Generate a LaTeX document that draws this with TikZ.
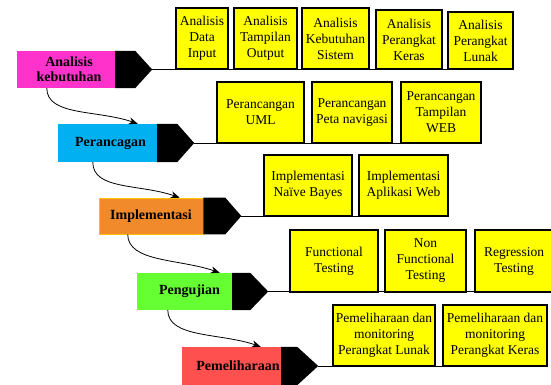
\documentclass[tikz,border=0pt]{standalone}
\usepackage{fontspec}
\setmainfont{Liberation Serif}
\usetikzlibrary{arrows.meta,calc}
\definecolor{cmag}{HTML}{FF33CC}
\definecolor{ccyan}{HTML}{00B0F0}
\definecolor{corange}{HTML}{F08A2A}
\definecolor{corangeb}{HTML}{FFC000}
\definecolor{cgreen}{HTML}{66FF33}
\definecolor{cred}{HTML}{FF5050}
\definecolor{cyel}{HTML}{FFFF00}
\begin{document}
\begin{tikzpicture}[x=1pt,y=-1pt,
  stagebox/.style={draw=none, inner sep=0pt, align=center,
    font=\fontsize{14}{15}\selectfont\bfseries},
  task/.style={draw=black, line width=1.1pt, fill=cyel, inner sep=0pt, align=center,
    font=\fontsize{13.5}{16}\selectfont},
  tipshape/.style={fill=black},
  baseline/.style={draw=black, line width=0.8pt},
  flow/.style={draw=black, line width=0.8pt, -{Stealth[length=9pt,width=7pt]}}
]
\useasboundingbox (0,0) rectangle (551,385);

% stages
\node[stagebox, fill=cmag, minimum width=98pt, minimum height=37pt] (s1) at (66,69.5) {\hspace*{6pt}Analisis\\\hspace*{6pt}kebutuhan};
\node[stagebox, fill=ccyan, minimum width=99pt, minimum height=38pt] (s2) at (107.5,143) {\hspace*{6pt}Perancagan};
\node[stagebox, fill=corange, draw=corangeb, line width=0.6pt, minimum width=104pt, minimum height=36pt] (s3) at (151,216) {Implementasi};
\node[stagebox, fill=cgreen, minimum width=95pt, minimum height=37pt] (s4) at (184.5,291.5) {\hspace*{10pt}Pengujian};
\node[stagebox, fill=cred, minimum width=99pt, minimum height=38pt] (s5) at (231.5,366) {\hspace*{13pt}Pemeliharaan};

% tips
\coordinate (t1) at ($(s1.east)+(37,0)$);
\coordinate (t2) at ($(s2.east)+(37,0)$);
\coordinate (t3) at ($(s3.east)+(38,0)$);
\coordinate (t4) at ($(s4.east)+(36,0)$);
\coordinate (t5) at ($(s5.east)+(37,0)$);
\fill[tipshape] (s1.north east) -- ++(20,0) -- (t1) -- ($(s1.south east)+(20,0)$) -- (s1.south east) -- cycle;
\fill[tipshape] (s2.north east) -- ++(20,0) -- (t2) -- ($(s2.south east)+(20,0)$) -- (s2.south east) -- cycle;
\fill[tipshape] (s3.north east) -- ++(22,0) -- (t3) -- ($(s3.south east)+(22,0)$) -- (s3.south east) -- cycle;
\fill[tipshape] (s4.north east) -- ++(18,0) -- (t4) -- ($(s4.south east)+(18,0)$) -- (s4.south east) -- cycle;
\fill[tipshape] (s5.north east) -- ++(16,0) -- (t5) -- ($(s5.south east)+(16,0)$) -- (s5.south east) -- cycle;

% row 1
\node[task, minimum width=52pt, minimum height=61pt] (b11) at (202,38.5) {Analisis\\Data\\Input};
\node[task, minimum width=63pt, minimum height=61pt] (b12) at (265.5,38.5) {Analisis\\Tampilan\\Output};
\node[task, minimum width=67pt, minimum height=61pt] (b13) at (335.5,38.5) {Analisis\\Kebutuhan\\Sistem};
\node[task, minimum width=66pt, minimum height=59pt] (b14) at (409,39.5) {Analisis\\Perangkat\\Keras};
\node[task, minimum width=65pt, minimum height=57pt] (b15) at (480.5,40.5) {Analisis\\Perangkat\\Lunak};
% row 2
\node[task, minimum width=87pt, minimum height=61pt] (b21) at (260.5,112.5) {Perancangan\\UML};
\node[task, minimum width=80pt, minimum height=61pt] (b22) at (352,112.5) {Perancangan\\Peta navigasi};
\node[task, minimum width=80pt, minimum height=61pt] (b23) at (441,112.5) {Perancangan\\Tampilan\\WEB};
% row 3
\node[task, minimum width=88pt, minimum height=61pt] (b31) at (308,185.5) {Implementasi\\Naïve Bayes};
\node[task, minimum width=89pt, minimum height=61pt] (b32) at (403.5,185.5) {Implementasi\\Aplikasi Web};
% row 4
\node[task, minimum width=88pt, minimum height=62pt] (b41) at (334,261) {Functional\\Testing};
\node[task, minimum width=81pt, minimum height=62pt] (b42) at (425.5,261) {Non\\Functional\\Testing};
\node[task, minimum width=78pt, minimum height=62pt] (b43) at (514,261) {Regression\\Testing};
% row 5
\node[task, minimum width=102pt, minimum height=61pt] (b51) at (384,335.5) {Pemeliharaan dan\\monitoring\\Perangkat Lunak};
\node[task, minimum width=104pt, minimum height=61pt] (b52) at (495,335.5) {Pemeliharaan dan\\monitoring\\Perangkat Keras};

% base lines
\draw[baseline] (t1) -- (t1 -| b15.east);
\draw[baseline] (t2) -- (t2 -| b23.east);
\draw[baseline] (t3) -- (t3 -| b32.east);
\draw[baseline] (t4) -- (t4 -| b43.east);
\draw[baseline] (t5) -- (t5 -| b52.east);

% flow arrows
\draw[flow] ($(s1.south west)+(30,0)$) .. controls +(0,28) and +(-40,-14) .. ($(s2.north west)+(80,0)$);
\draw[flow] ($(s2.south west)+(35,0)$) .. controls +(0,28) and +(-40,-14) .. ($(s3.north west)+(81,0)$);
\draw[flow] ($(s3.south west)+(29,0)$) .. controls +(0,28) and +(-40,-14) .. ($(s4.north west)+(83,0)$);
\draw[flow] ($(s4.south west)+(31,0)$) .. controls +(0,28) and +(-40,-14) .. ($(s5.north west)+(79,0)$);
\end{tikzpicture}
\end{document}
